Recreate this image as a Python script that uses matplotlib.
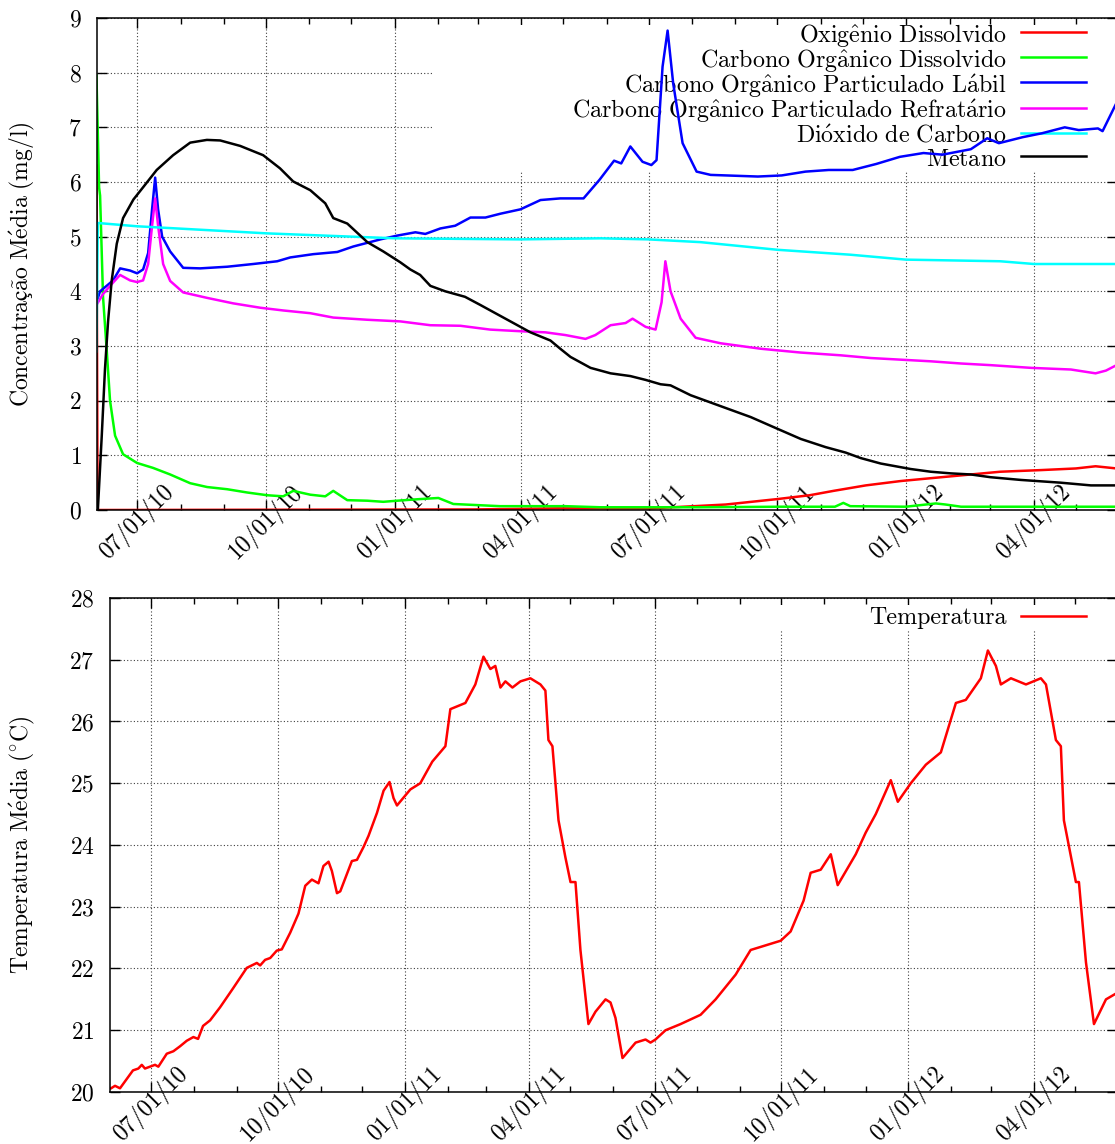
import datetime as dt
import matplotlib
matplotlib.use("Agg")
import matplotlib.pyplot as plt
import matplotlib.dates as mdates
from matplotlib.patches import Rectangle

plt.rcParams['font.family'] = ['cmr10', 'DejaVu Serif']
plt.rcParams['mathtext.fontset'] = 'cm'
plt.rcParams['axes.formatter.use_mathtext'] = True
plt.rcParams['font.size'] = 17

# dias contados a partir de 01/06/2010
inicio = dt.datetime(2010, 6, 1)

od_dias = [1.0, 1.8, 270, 330, 396, 420, 450, 487, 510, 527, 550, 575, 604, 625, 646, 675, 700, 714, 729]
od_val = [6.3, 0.0, 0.01, 0.03, 0.03, 0.06, 0.1, 0.2, 0.27, 0.35, 0.45, 0.53, 0.6, 0.65, 0.7, 0.73, 0.76, 0.8, 0.76]

cod_dias = [1.0, 2.9, 3.6, 5.7, 8.4, 10.7, 14.3, 20, 30, 41.4, 53.6, 67.9, 80, 94.3, 108.6, 122.9,
            134.3, 141.4, 153.6, 164.3, 170, 180, 194.3, 205.7, 215.7, 232, 245, 255.7, 289, 335.7,
            360.7, 432, 489, 528, 534, 539, 578.6, 600, 607, 618, 729]
cod_val = [7.95, 5.9, 5.75, 3.9, 2.9, 2.0, 1.36, 1.02, 0.86, 0.77, 0.65, 0.49, 0.42, 0.38, 0.32, 0.27,
           0.25, 0.35, 0.28, 0.25, 0.35, 0.18, 0.17, 0.15, 0.17, 0.2, 0.22, 0.11, 0.07, 0.07,
           0.05, 0.05, 0.06, 0.06, 0.13, 0.07, 0.06, 0.12, 0.1, 0.06, 0.06]

copl_dias = [1.0, 3.6, 12.9, 17.9, 25, 30, 34.3, 37.9, 40.7, 42.9, 45, 47.9, 53.6, 62.9, 75, 94.3,
             112.9, 130, 139.3, 155.7, 172.9, 184.3, 203.6, 215.7, 228.6, 235.7, 246.4, 257, 267.9,
             278.6, 289.3, 303.6, 317.9, 332, 348.6, 360, 370.4, 375.5, 382, 390.7, 397, 400.7, 405,
             408.6, 412.6, 419.3, 429.3, 439.3, 473, 490, 507, 523.6, 540.7, 557.5, 574.3, 591.2,
             604.7, 625, 636.7, 645, 662, 675.5, 692, 702, 715.7, 719, 729]
copl_val = [3.8, 4.0, 4.2, 4.42, 4.38, 4.33, 4.4, 4.7, 5.5, 6.08, 5.5, 5.0, 4.73, 4.43, 4.42, 4.45,
            4.5, 4.55, 4.62, 4.68, 4.72, 4.82, 4.95, 5.02, 5.08, 5.05, 5.15, 5.2, 5.35,
            5.35, 5.42, 5.5, 5.67, 5.7, 5.7, 6.04, 6.39, 6.34, 6.65, 6.37, 6.31, 6.4, 8.11,
            8.77, 7.8, 6.71, 6.19, 6.13, 6.1, 6.12, 6.19, 6.22, 6.22, 6.33, 6.46, 6.53,
            6.5, 6.6, 6.8, 6.71, 6.82, 6.89, 7.0, 6.95, 6.98, 6.93, 7.45]

copr_dias = [1.0, 5.7, 10.7, 17.9, 25, 30, 34.3, 37.9, 40.7, 42.9, 45, 48.6, 53.6, 62.9, 80, 98.6,
             117.9, 134.3, 153.6, 170, 194.3, 217.9, 239.3, 260.7, 282, 303.6, 321.4, 335.7, 350,
             357, 367.9, 378.6, 383.6, 392.9, 400, 404.3, 407, 410.7, 417.9, 428.6, 446.4, 475,
             503.6, 532, 553.6, 575, 596.4, 617.9, 639, 668, 696.4, 714, 721.4, 729]
copr_val = [3.75, 3.95, 4.1, 4.3, 4.2, 4.17, 4.2, 4.5, 5.2, 5.7, 5.2, 4.5, 4.19, 3.98, 3.88, 3.78,
            3.7, 3.65, 3.6, 3.52, 3.48, 3.45, 3.38, 3.37, 3.3, 3.27, 3.25, 3.2, 3.13,
            3.2, 3.38, 3.42, 3.5, 3.35, 3.3, 3.8, 4.55, 4.0, 3.5, 3.15, 3.05, 2.95,
            2.88, 2.83, 2.78, 2.75, 2.72, 2.68, 2.65, 2.6, 2.57, 2.5, 2.55, 2.65]

co2_dias = [1.0, 2.0, 30, 122.9, 214, 303.6, 360.7, 395, 432, 487, 539, 578.6, 646, 670, 729]
co2_val = [2.9, 5.25, 5.19, 5.06, 4.97, 4.95, 4.97, 4.95, 4.9, 4.76, 4.67, 4.58, 4.55, 4.5, 4.5]

ch4_dias = [1.0, 2.0, 4.8, 7.1, 9.3, 11.9, 15.5, 20, 27.4, 34.5, 44, 55.7, 67.9, 79.8, 89.3, 103.6,
            120, 132, 141.4, 153.6, 164.3, 170, 180, 194.3, 205.7, 217.9, 225, 232, 239.3, 250,
            264, 275, 285.7, 300, 310.7, 325, 332, 339.3, 353.6, 367.9, 382, 392.9, 403.6, 410.7,
            425, 446.4, 467.9, 485.7, 503.6, 521.4, 535.7, 546.4, 560.7, 582, 596.4, 610.7, 625,
            639, 660.7, 689, 710.7, 729]
ch4_val = [0.0, 0.0, 1.36, 2.58, 3.45, 4.2, 4.87, 5.34, 5.68, 5.91, 6.22, 6.49, 6.72, 6.77, 6.76, 6.66,
           6.49, 6.25, 6.01, 5.85, 5.61, 5.34, 5.24, 4.9, 4.73, 4.53, 4.4, 4.3, 4.1, 4.0,
           3.9, 3.75, 3.6, 3.4, 3.25, 3.1, 2.95, 2.8, 2.6, 2.5, 2.45, 2.38, 2.3, 2.28,
           2.1, 1.9, 1.7, 1.5, 1.3, 1.15, 1.05, 0.95, 0.85, 0.75, 0.7, 0.67, 0.65,
           0.6, 0.55, 0.5, 0.45, 0.45]

temp_dias = [1.0, 3.9, 7.5, 16.9, 20.8, 23.3, 25.6, 32.9, 35.3, 41.4, 46.2, 51, 55.9, 60.7, 64.1, 67.7,
             72.8, 80, 89.5, 99.4, 106.7, 109.1, 112.7, 116.4, 121.2, 124.8, 130.9, 136.9, 141.8,
             146.6, 151.4, 155, 158.7, 161.1, 164.8, 167.2, 175.6, 179.3, 184.1, 187.7, 193.8,
             198.6, 202.9, 205.8, 208.3, 218, 225.2, 233.9, 243.4, 247, 257.9, 265.1, 271,
             276, 279.6, 283.3, 286.9, 292, 297.8, 305, 312.3, 315.9, 318.1, 321, 325.4,
             330.4, 334.1, 337.7, 341.3, 347.1, 352.2, 359.5, 363.1, 366.7, 371.8, 381.3, 388.5,
             392.1, 395.7, 403, 413.9, 428.4, 439.3, 453.8, 464.7, 472, 486.5, 493.7, 503.1,
             508.2, 515.5, 522.8, 527.8, 540.9, 548.1, 555.4, 566.3, 571.4, 580.8, 591.7, 602.6,
             613.5, 620.7, 631.6, 636.7, 642.5, 646.1, 653.4, 664.3, 675.1, 678.8, 686, 689.6,
             691.8, 700.5, 702.7, 707.8, 713.6, 722.3, 730]
temp_val = [20.06, 20.1, 20.06, 20.35, 20.38, 20.44, 20.38, 20.44, 20.41, 20.62, 20.66, 20.74, 20.83, 20.89, 20.86, 21.07,
            21.16, 21.37, 21.68, 22.01, 22.09, 22.05, 22.14, 22.17, 22.29, 22.31, 22.58, 22.89, 23.34,
            23.44, 23.38, 23.66, 23.73, 23.58, 23.22, 23.25, 23.74, 23.76, 23.97, 24.15, 24.52,
            24.88, 25.02, 24.76, 24.64, 24.9, 25.0, 25.35, 25.6, 26.2, 26.3, 26.6, 27.05,
            26.85, 26.9, 26.55, 26.65, 26.55, 26.65, 26.7, 26.6, 26.5, 25.7, 25.6, 24.4,
            23.8, 23.4, 23.4, 22.3, 21.1, 21.3, 21.5, 21.45, 21.2, 20.55, 20.8, 20.85,
            20.8, 20.85, 21.0, 21.1, 21.25, 21.5, 21.9, 22.3, 22.35, 22.45, 22.6, 23.1,
            23.55, 23.6, 23.85, 23.35, 23.85, 24.2, 24.5, 25.05, 24.7, 25.0, 25.3, 25.5,
            26.3, 26.35, 26.7, 27.15, 26.9, 26.6, 26.7, 26.6, 26.7, 26.6, 25.7, 25.6,
            24.4, 23.4, 23.4, 22.1, 21.1, 21.5, 21.6]

series = [
    (r"$\mathrm{Oxig\^enio\ Dissolvido}$", od_dias, od_val, "#ff0000"),
    (r"$\mathrm{Carbono\ Org\^anico\ Dissolvido}$", cod_dias, cod_val, "#00ff00"),
    (r"$\mathrm{Carbono\ Org\^anico\ Particulado\ L\'abil}$", copl_dias, copl_val, "#0000ff"),
    (r"$\mathrm{Carbono\ Org\^anico\ Particulado\ Refrat\'ario}$", copr_dias, copr_val, "#ff00ff"),
    (r"$\mathrm{Di\'oxido\ de\ Carbono}$", co2_dias, co2_val, "#00ffff"),
    (r"$\mathrm{Metano}$", ch4_dias, ch4_val, "#000000"),
]


def datas(dias):
    return [inicio + dt.timedelta(days=d) for d in dias]


W, H = 1115, 1144
fig = plt.figure(figsize=(W / 100, H / 100), dpi=100)
ax1 = fig.add_axes([97 / W, 1 - 510 / H, (1117 - 97) / W, (510 - 18) / H])
ax2 = fig.add_axes([110 / W, 1 - 1092 / H, (1117 - 110) / W, (1092 - 598) / H])


def estilo(ax, xmin, xmax):
    ax.set_axisbelow(True)
    ax.set_xlim(inicio + dt.timedelta(days=xmin), inicio + dt.timedelta(days=xmax))
    ax.xaxis.set_major_locator(mdates.MonthLocator(bymonth=[1, 4, 7, 10]))
    ax.xaxis.set_minor_locator(mdates.MonthLocator())
    ax.xaxis.set_major_formatter(mdates.DateFormatter('%m/%d/%y'))
    ax.grid(True, which='major', linestyle=(0, (1, 2)), color='0.25', lw=0.8)
    ax.tick_params(which='both', direction='in', top=True, right=True, width=1)
    ax.tick_params(which='major', length=7)
    ax.tick_params(which='minor', length=4)
    ax.tick_params(axis='x', pad=8.5)
    ax.tick_params(axis='y', pad=11)
    for lab in ax.get_xticklabels():
        lab.set_rotation(45)
        lab.set_ha('center')
        lab.set_va('center')
    for s in ax.spines.values():
        s.set_linewidth(1.1)


# concentracoes
for nome, d, v, cor in series:
    ax1.plot(datas(d), v, color=cor, lw=1.8, label=nome, zorder=2)
ax1.set_ylim(0, 9)
ax1.set_yticks(range(0, 10))
estilo(ax1, 1.4, 729.3)
ax1.add_patch(Rectangle((433 / W, 1 - 172 / H), (W - 433) / W, (172 - 25) / H,
                        transform=fig.transFigure, facecolor='white', edgecolor='none', zorder=1))
leg1 = ax1.legend(loc='upper right', bbox_to_anchor=(1086 / W, 1 - 22 / H), bbox_transform=fig.transFigure,
                  frameon=False, markerfirst=False, handlelength=2.7, handletextpad=0.6, fontsize=17.3,
                  handleheight=1.2, labelspacing=-0.10, borderpad=0, borderaxespad=0)
leg1.set_zorder(1.5)
fig.text(22 / W, 1 - 264 / H, r"$\mathrm{Concentraç\~ao\ M\'edia\ (mg/l)}$",
         rotation=90, ha='center', va='center')

# temperatura
ax2.plot(datas(temp_dias), temp_val, color='#ff0000', lw=1.8, label='Temperatura', zorder=2)
ax2.set_ylim(20, 28)
ax2.set_yticks(range(20, 29))
estilo(ax2, 0.25, 730.3)
ax2.add_patch(Rectangle((760 / W, 1 - 630 / H), (W - 760) / W, (630 - 605) / H,
                        transform=fig.transFigure, facecolor='white', edgecolor='none', zorder=1))
leg2 = ax2.legend(loc='upper right', bbox_to_anchor=(1086 / W, 1 - 607 / H), bbox_transform=fig.transFigure,
                  frameon=False, markerfirst=False, handlelength=2.7, handletextpad=0.6, fontsize=17.3,
                  borderpad=0, borderaxespad=0)
leg2.set_zorder(1.5)
fig.text(22 / W, 1 - 845 / H, r"$\mathrm{Temperatura\ M\'edia\ (}^{\circ}\mathrm{C)}$",
         rotation=90, ha='center', va='center')

fig.savefig('out.png', dpi=100)
